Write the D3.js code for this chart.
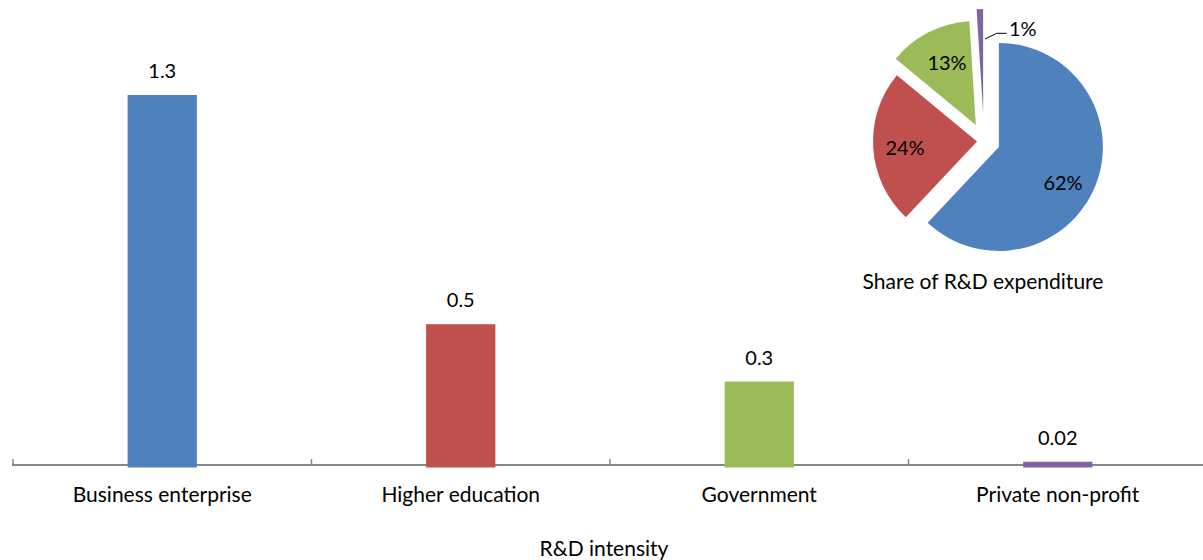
<!DOCTYPE html>
<html>
<head>
<meta charset="utf-8">
<script src="https://cdn.jsdelivr.net/npm/d3@7"></script>
<style>
  html, body { margin: 0; padding: 0; background: #fff; }
  svg text { font-family: Lato, "Open Sans", sans-serif; fill: #000; }
</style>
</head>
<body>
<svg id="chart" width="1203" height="560"></svg>
<script>
// R&D intensity by sector (bars)
const categories = ["Business enterprise", "Higher education", "Government", "Private non-profit"];
const intensity = [1.3, 0.5, 0.3, 0.02];
const intensityLabels = ["1.3", "0.5", "0.3", "0.02"];

// Share of R&D expenditure by sector (pie, %)
const shares = [62, 24, 13, 1];
const shareLabels = ["62%", "24%", "13%", "1%"];
const explode = [16, 7, 18, 28];

const colors = ["#4F81BD", "#C0504D", "#9BBB59", "#8064A2"];

const svg = d3.select("#chart");

// ---- Bar chart ----
const x = d3.scaleBand().domain(categories).range([13, 1207]).padding(0);
const y = d3.scaleLinear().domain([0, 1.3]).range([467.5, 95]);
const axisY = 465;
const barW = x.bandwidth() * 0.232;

// axis line with upward ticks at category boundaries
const g = svg.append("g");
g.append("line")
  .attr("x1", 12).attr("x2", 1203)
  .attr("y1", axisY).attr("y2", axisY)
  .attr("stroke", "#868686").attr("stroke-width", 2);
const bounds = categories.map(c => x(c)).concat([x.range()[1]]);
g.selectAll("line.tick").data(bounds).join("line")
  .attr("class", "tick")
  .attr("x1", d => d).attr("x2", d => d)
  .attr("y1", axisY - 6).attr("y2", axisY)
  .attr("stroke", "#868686").attr("stroke-width", 1.5);

g.selectAll("rect.bar").data(categories).join("rect")
  .attr("class", "bar")
  .attr("x", c => x(c) + x.bandwidth() / 2 - barW / 2)
  .attr("width", barW)
  .attr("y", (c, i) => y(intensity[i]))
  .attr("height", (c, i) => y(0) - y(intensity[i]))
  .attr("fill", (c, i) => colors[i]);

g.selectAll("text.val").data(categories).join("text")
  .attr("class", "val")
  .attr("x", c => x(c) + x.bandwidth() / 2)
  .attr("y", (c, i) => y(intensity[i]) - 17)
  .attr("text-anchor", "middle")
  .attr("font-size", 20)
  .text((c, i) => intensityLabels[i]);

g.selectAll("text.cat").data(categories).join("text")
  .attr("class", "cat")
  .attr("x", c => x(c) + x.bandwidth() / 2)
  .attr("y", 502)
  .attr("text-anchor", "middle")
  .attr("font-size", 21)
  .text(c => c);

g.append("text")
  .attr("x", 604).attr("y", 556)
  .attr("text-anchor", "middle")
  .attr("font-size", 21)
  .text("R&D intensity");

// ---- Pie chart ----
const cx = 984, cy = 141, r = 104;
const pie = d3.pie().sort(null).value(d => d);
const arcs = pie(shares);
const arc = d3.arc().innerRadius(0).outerRadius(r);
const offset = (d, i) => {
  const a = (d.startAngle + d.endAngle) / 2;
  return [Math.sin(a) * explode[i], -Math.cos(a) * explode[i]];
};

const pg = svg.append("g").attr("transform", `translate(${cx},${cy})`);
pg.selectAll("path").data(arcs).join("path")
  .attr("d", arc)
  .attr("transform", (d, i) => { const o = offset(d, i); return `translate(${o[0]},${o[1]})`; })
  .attr("fill", (d, i) => colors[i]);

// in-slice labels
const labelPos = [[79, 41], [-79, 6], [-37, -79]];
arcs.slice(0, 3).forEach((d, i) => {
  pg.append("text")
    .attr("x", labelPos[i][0]).attr("y", labelPos[i][1])
    .attr("text-anchor", "middle")
    .attr("dominant-baseline", "central")
    .attr("font-size", 20)
    .text(shareLabels[i]);
});

// leader line and label for the smallest slice
pg.append("polyline")
  .attr("points", "1,-102 12.7,-107.7 22.7,-107.7")
  .attr("fill", "none").attr("stroke", "#000").attr("stroke-width", 1);
pg.append("text")
  .attr("x", 25).attr("y", -113)
  .attr("dominant-baseline", "central")
  .attr("font-size", 20)
  .text(shareLabels[3]);

svg.append("text")
  .attr("x", 983).attr("y", 289)
  .attr("text-anchor", "middle")
  .attr("font-size", 21)
  .text("Share of R&D expenditure");
</script>
</body>
</html>
